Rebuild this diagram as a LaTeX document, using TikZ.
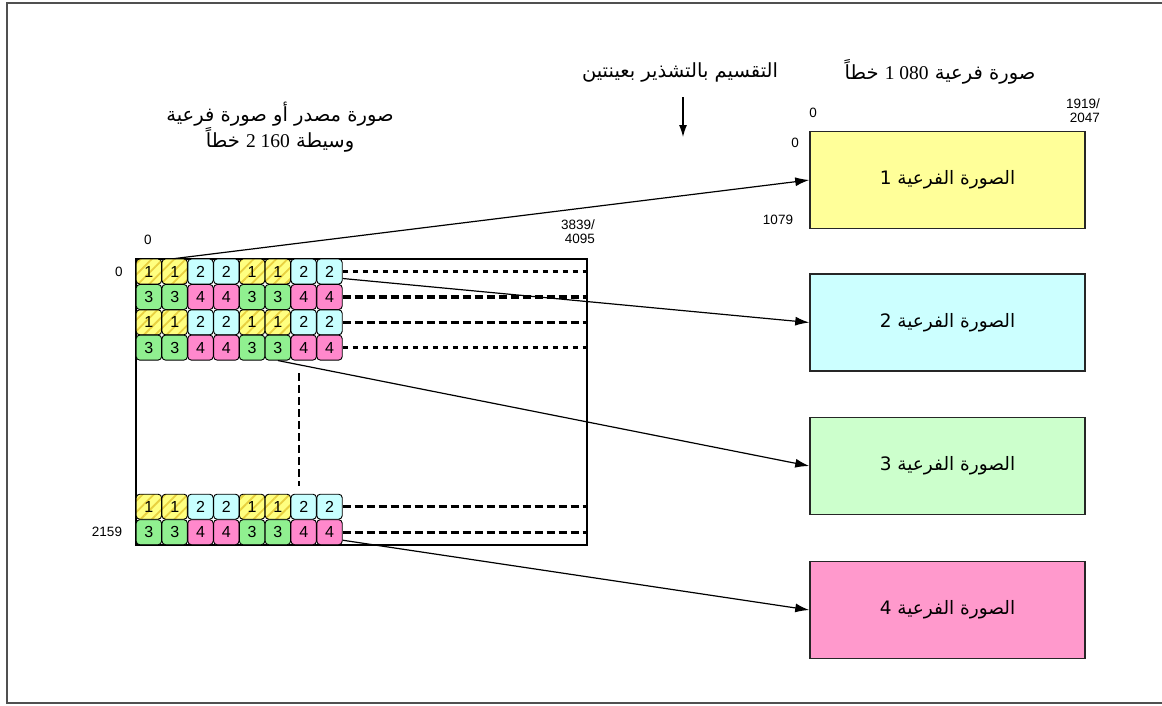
\documentclass[tikz,border=0pt]{standalone}
\usepackage{fontspec}
\setmainfont{Liberation Serif}
\setsansfont{Liberation Sans}
\newfontfamily\arabicfont[Script=Arabic]{DejaVu Sans}
\TeXXeTstate=1
\usetikzlibrary{patterns.meta,arrows.meta}
\definecolor{tyel}{HTML}{FFFF80}
\definecolor{thatch}{HTML}{E8D040}
\definecolor{tcya}{HTML}{C8FFFF}
\definecolor{tgrn}{HTML}{90F090}
\definecolor{tpnk}{HTML}{FF88CC}
\definecolor{byel}{HTML}{FFFF99}
\definecolor{bcya}{HTML}{CCFFFF}
\definecolor{bgrn}{HTML}{CCFFCC}
\definecolor{bpnk}{HTML}{FF99CC}
\definecolor{framec}{HTML}{505050}
\tikzset{
  tile/.style={draw=black, line width=0.9, rounded corners=3.5, minimum width=25.4, minimum height=25.0, inner sep=0, font=\sffamily\fontsize{16}{16}\selectfont},
  tile1/.style={tile, preaction={fill=tyel}, pattern={Lines[angle=45,distance=8,line width=1.8]}, pattern color=thatch},
  tile2/.style={tile, fill=tcya},
  tile3/.style={tile, fill=tgrn},
  tile4/.style={tile, fill=tpnk},
  subbox/.style={draw=black!85, line width=1.5, minimum width=275, minimum height=97, inner sep=0, font=\arabicfont\fontsize{18.5}{20}\selectfont},
  lbl/.style={inner sep=0, font=\sffamily\fontsize{13.5}{14}\selectfont},
  artxt/.style={inner sep=0, font=\arabicfont\fontsize{19.5}{25}\selectfont},
  arr/.style={line width=1.2, -{Latex[length=14,width=9]}},
  dashrowA/.style={line width=3.2, dash pattern=on 5 off 5},
  dashrowB/.style={line width=3.2, dash pattern=on 8 off 4},
}
\begin{document}
\begin{tikzpicture}[x=1pt,y=-1pt]
\useasboundingbox (0,0) rectangle (1162,705);
\draw[framec, line width=2] (7,3) rectangle (1180,703);

% source image
\node[draw=black, line width=1.3, minimum width=451, minimum height=286, inner sep=0] (src) at (361.5,402) {};

% tiles
\foreach \r/\yy/\base in {1/271.5/1, 2/297/3, 3/322.3/1, 4/347.6/3, 5/506.7/1, 6/532.2/3} {
  \foreach \c in {1,...,8} {
    \pgfmathsetmacro\xx{136+12.9+25.8*(\c-1)}
    \pgfmathtruncatemacro\kk{mod(int((\c-1)/2),2)}
    \pgfmathtruncatemacro\nn{\base+\kk}
    \node[tile\nn] (t-\r-\c) at (\xx,\yy) {\nn};
  }
}

% dashed continuation lines
\draw[dashrowA] (t-1-8.east) -- (t-1-8.east -| src.east);
\draw[dashrowB] (t-2-8.east) -- (t-2-8.east -| src.east);
\draw[dashrowB] (t-3-8.east) -- (t-3-8.east -| src.east);
\draw[dashrowA] (t-4-8.east) -- (t-4-8.east -| src.east);
\draw[dashrowB] (t-5-8.east) -- (t-5-8.east -| src.east);
\draw[dashrowB] (t-6-8.east) -- (t-6-8.east -| src.east);
\coordinate (v1) at (299,373);
\coordinate (v2) at (299,486);
\draw[line width=2.6, dash pattern=on 8 off 4] (v1) -- (v2);

% sub-images
\node[subbox, fill=byel] (b1) at (947.5,180) {\beginR الصورة الفرعية 1\endR};
\node[subbox, fill=bcya] (b2) at (947.5,322.5) {\beginR الصورة الفرعية 2\endR};
\node[subbox, fill=bgrn] (b3) at (947.5,466) {\beginR الصورة الفرعية 3\endR};
\node[subbox, fill=bpnk] (b4) at (947.5,610) {\beginR الصورة الفرعية 4\endR};

% arrows
\draw[arr] (t-1-2.north) -- (b1.west);
\draw[arr] ([yshift=-7pt]t-1-8.east) -- (b2.west);
\draw[arr] (t-4-6.south) -- (b3.west);
\draw[arr] ([yshift=-8pt]t-6-8.east) -- (b4.west);

% coordinate labels
\node[lbl] (s0x) at (148,240) {0};
\node[lbl, align=right] (s3839) at (578,232) {3839/\\4095};
\node[lbl] (s0y) at (119,272) {0};
\node[lbl] (s2159) at (107,532) {2159};
\node[lbl] (b0x) at (813,113) {0};
\node[lbl, align=right] (b1919) at (1083,111) {1919/\\2047};
\node[lbl] (b0y) at (795,143) {0};
\node[lbl] (b1079) at (778,220) {1079};

% titles
\node[artxt] (tsplit) at (680,72) {\beginR التقسيم بالتشذير بعينتين\endR};
\coordinate (dA) at (683,97);
\coordinate (dB) at (683,137);
\draw[line width=1.2, -{Latex[length=12,width=8]}] (dA) -- (dB);
\node[artxt] (tsub) at (940,72) {\beginR صورة فرعية \beginL{\rmfamily 1 080}\endL{} خطاً\endR};
\node[artxt, align=center] (tsrc) at (280,127) {\beginR صورة مصدر أو صورة فرعية\endR\\\beginR وسيطة \beginL{\rmfamily 2 160}\endL{} خطاً\endR};
\end{tikzpicture}
\end{document}
